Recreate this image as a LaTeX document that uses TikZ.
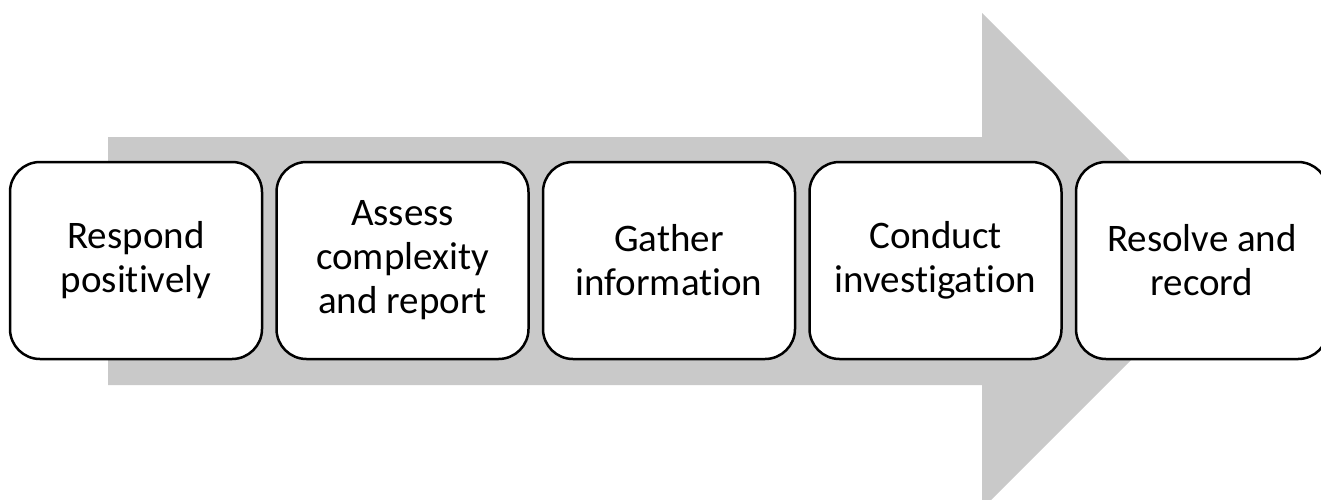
\documentclass[tikz,border=0pt]{standalone}
\usepackage{fontspec}
\setmainfont{Carlito}[Ligatures={NoCommon}]
\definecolor{arrowgray}{RGB}{201,201,201}
\begin{document}
\begin{tikzpicture}[x=1pt, y=-1pt,
    stepbox/.style={draw, line width=2.5pt, fill=white, rounded corners=30pt,
      minimum width=252pt, minimum height=197pt, align=center,
      font=\fontsize{39}{44}\selectfont}]
    \clip (0,0) rectangle (1321,499);

    % grosse flèche grise derrière les étapes
    \fill[arrowgray] (108,137) -- (982,137) -- (982,13) -- (1230,261)
      -- (982,509) -- (982,385) -- (108,385) -- cycle;

    \node[stepbox] (1) at (136,260.5) {Respond\\positively};
    \node[stepbox] (2) at (402.5,260.5) {Assess\\complexity\\and report};
    \node[stepbox] (3) at (669,260.5) {Gather\\information};
    \node[stepbox] (4) at (935.5,260.5) {Conduct\\investigation};
    \node[stepbox] (5) at (1202,260.5) {Resolve and\\record};
  \end{tikzpicture}
\end{document}
